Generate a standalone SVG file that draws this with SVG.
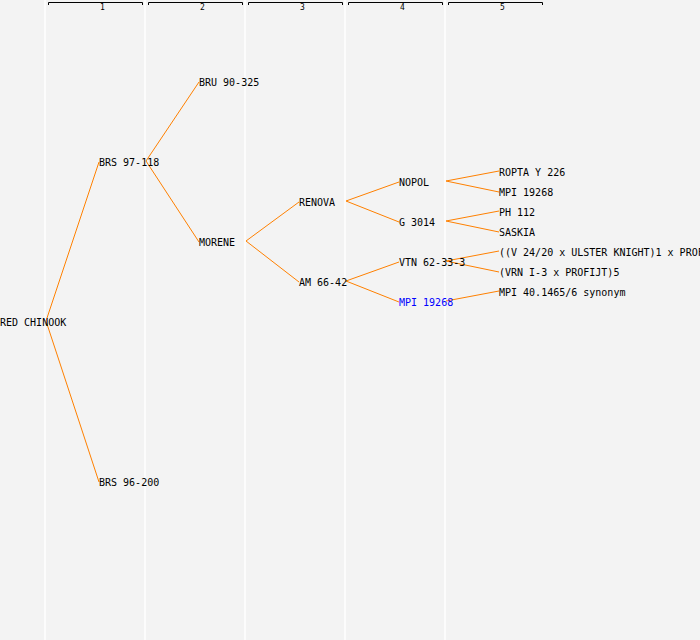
<svg xmlns="http://www.w3.org/2000/svg" width="700" height="640" viewBox="0 0 700 640">
<style>
.bg{fill:#f3f3f3}
.col{stroke:#ffffff;stroke-width:1.5}
.hdr{fill:none;stroke:#000;stroke-width:1}
.num{font-family:"DejaVu Sans Mono","Liberation Mono",monospace;font-size:8px;fill:#000}
.lbl{font-family:"DejaVu Sans Mono","Liberation Mono",monospace;font-size:10px;fill:#000}
.blue{fill:#0000ff}
.edge{fill:none;stroke:#ff8000;stroke-width:1}
</style>
<rect class="bg" x="0" y="0" width="700" height="640"/>
<g id="columns">
<line class="col" x1="45" y1="0" x2="45" y2="640"/>
<line class="col" x1="145" y1="0" x2="145" y2="640"/>
<line class="col" x1="245" y1="0" x2="245" y2="640"/>
<line class="col" x1="345" y1="0" x2="345" y2="640"/>
<line class="col" x1="445" y1="0" x2="445" y2="640"/>
</g>
<g id="header">
<path class="hdr" d="M48.5 5V2.5H142.5V5"/>
<path class="hdr" d="M148.5 5V2.5H242.5V5"/>
<path class="hdr" d="M248.5 5V2.5H342.5V5"/>
<path class="hdr" d="M348.5 5V2.5H442.5V5"/>
<path class="hdr" d="M448.5 5V2.5H542.5V5"/>
<text class="num" x="100" y="10">1</text>
<text class="num" x="200" y="10">2</text>
<text class="num" x="300" y="10">3</text>
<text class="num" x="400" y="10">4</text>
<text class="num" x="500" y="10">5</text>
</g>
<g id="connectors">
<line class="edge" x1="46" y1="321" x2="99" y2="162"/>
<line class="edge" x1="46" y1="321" x2="99" y2="482"/>
<line class="edge" x1="146" y1="161" x2="199" y2="82"/>
<line class="edge" x1="146" y1="161" x2="199" y2="242"/>
<line class="edge" x1="246" y1="241" x2="299" y2="202"/>
<line class="edge" x1="246" y1="241" x2="299" y2="282"/>
<line class="edge" x1="346" y1="201" x2="399" y2="182"/>
<line class="edge" x1="346" y1="201" x2="399" y2="222"/>
<line class="edge" x1="346" y1="281" x2="399" y2="262"/>
<line class="edge" x1="346" y1="281" x2="399" y2="302"/>
<line class="edge" x1="446" y1="181" x2="499" y2="171"/>
<line class="edge" x1="446" y1="181" x2="499" y2="192"/>
<line class="edge" x1="446" y1="221" x2="499" y2="211"/>
<line class="edge" x1="446" y1="221" x2="499" y2="232"/>
<line class="edge" x1="446" y1="261" x2="499" y2="251"/>
<line class="edge" x1="446" y1="261" x2="499" y2="272"/>
<line class="edge" x1="446" y1="301" x2="499" y2="291"/>
</g>
<g id="n-red-chinook"><text class="lbl" x="0" y="326">RED CHINOOK</text></g>
<g id="n-brs-97-118"><text class="lbl" x="99" y="166">BRS 97-118</text></g>
<g id="n-brs-96-200"><text class="lbl" x="99" y="486">BRS 96-200</text></g>
<g id="n-bru-90-325"><text class="lbl" x="199" y="86">BRU 90-325</text></g>
<g id="n-morene"><text class="lbl" x="199" y="246">MORENE</text></g>
<g id="n-renova"><text class="lbl" x="299" y="206">RENOVA</text></g>
<g id="n-am-66-42"><text class="lbl" x="299" y="286">AM 66-42</text></g>
<g id="n-nopol"><text class="lbl" x="399" y="186">NOPOL</text></g>
<g id="n-g-3014"><text class="lbl" x="399" y="226">G 3014</text></g>
<g id="n-vtn"><text class="lbl" x="399" y="266">VTN 62-33-3</text></g>
<g id="n-mpi-19268-b"><text class="lbl blue" x="399" y="306">MPI 19268</text></g>
<g id="n-ropta"><text class="lbl" x="499" y="176">ROPTA Y 226</text></g>
<g id="n-mpi-19268"><text class="lbl" x="499" y="196">MPI 19268</text></g>
<g id="n-ph-112"><text class="lbl" x="499" y="216">PH 112</text></g>
<g id="n-saskia"><text class="lbl" x="499" y="236">SASKIA</text></g>
<g id="n-v2420"><text class="lbl" x="499" y="256">((V 24/20 x ULSTER KNIGHT)1 x PROF</text></g>
<g id="n-vrn"><text class="lbl" x="499" y="276">(VRN I-3 x PROFIJT)5</text></g>
<g id="n-mpi-40"><text class="lbl" x="499" y="296">MPI 40.1465/6 synonym</text></g>
</svg>
